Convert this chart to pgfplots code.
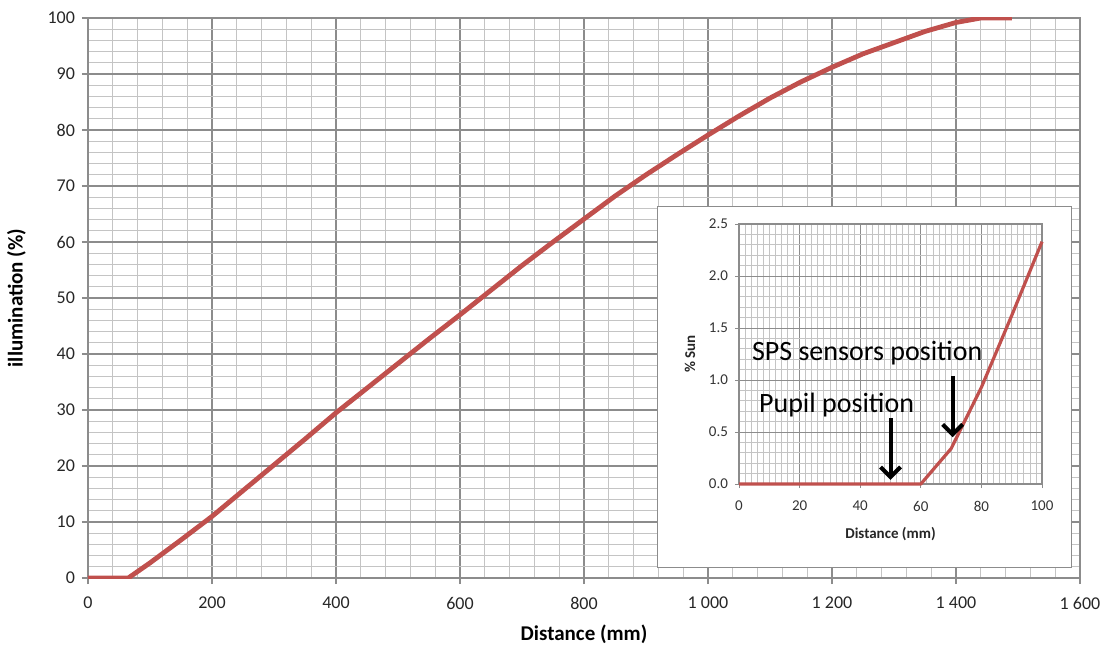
\documentclass[border=0pt]{standalone}
\usepackage{fontspec}
\setmainfont{Carlito}
\usepackage{pgfplots}
\pgfplotsset{compat=1.18}
\usetikzlibrary{arrows.meta}

\definecolor{curve}{HTML}{C0504D}
\definecolor{majgrid}{HTML}{8C8C8C}
\definecolor{mingrid}{HTML}{C4C4C4}

\begin{document}
\begin{tikzpicture}
\path[use as bounding box] (-44pt,-40.5pt) rectangle (511.5pt,289pt);
\begin{axis}[
  at={(0pt,0pt)}, anchor=origin,
  scale only axis, width=496pt, height=280pt,
  xmin=0, xmax=1600, ymin=0, ymax=100,
  xtick={0,200,...,1600}, ytick={0,10,...,100},
  minor x tick num=4, minor y tick num=4,
  grid=both,
  major grid style={majgrid, line width=0.6pt},
  minor grid style={mingrid, line width=0.5pt},
  axis line style={majgrid, line width=0.8pt},
  tick align=outside, major tick length=3pt, minor tick length=0pt,
  tick style={majgrid, line width=0.6pt},
  xtick pos=bottom, ytick pos=left,
  /pgf/number format/assume math mode=true,
  /pgf/number format/1000 sep={\ },
  tick label style={font=\fontsize{9}{10}\selectfont, text=black!85},
  xticklabel style={yshift=-3pt},
  xlabel={\textbf{Distance (mm)}},
  ylabel={\textbf{illumination (\%)}},
  label style={font=\fontsize{10.5}{12}\selectfont},
  xlabel style={yshift=-1pt},
  ylabel style={yshift=4pt},
]
\addplot[curve, line width=2.4pt, line join=round] coordinates {
  (0,0) (65,0) (100,2.7) (150,6.8) (200,11) (250,15.6) (300,20.2) (350,24.8)
  (400,29.5) (450,33.9) (500,38.3) (550,42.7) (600,47) (650,51.4) (700,55.8)
  (750,60) (800,64.1) (850,68.2) (900,72) (950,75.6) (1000,79.1) (1050,82.5)
  (1100,85.7) (1150,88.6) (1200,91.2) (1250,93.6) (1300,95.6) (1350,97.6)
  (1400,99.2) (1440,100) (1490,100)
};
\end{axis}
\fill[white] (284.5pt,5.5pt) rectangle (491.5pt,185.5pt);
\draw[black!45, line width=0.5pt] (284.5pt,5.5pt) rectangle (491.5pt,185.5pt);
\begin{axis}[
  at={(325.5pt,47pt)}, anchor=origin,
  scale only axis, width=151.5pt, height=130pt,
  xmin=0, xmax=100, ymin=0, ymax=2.5,
  xtick={0,20,...,100}, ytick={0,0.5,...,2.5},
  minor x tick num=9, minor y tick num=4,
  grid=both,
  major grid style={majgrid, line width=0.5pt},
  minor grid style={mingrid, line width=0.4pt},
  axis line style={majgrid, line width=0.6pt},
  tick align=outside, major tick length=2pt, minor tick length=0pt,
  tick style={majgrid, line width=0.5pt},
  xtick pos=bottom, ytick pos=left,
  /pgf/number format/assume math mode=true,
  yticklabel style={/pgf/number format/.cd, fixed, fixed zerofill, precision=1},
  tick label style={font=\fontsize{7.5}{9}\selectfont, text=black!80},
  xticklabel style={yshift=-3pt},
  xlabel={\textbf{Distance (mm)}},
  ylabel={\textbf{\% Sun}},
  label style={font=\fontsize{7.5}{9}\selectfont, text=black!85},
  xlabel style={yshift=-1pt},
  clip=false,
]
\addplot[curve, line width=1.6pt, line join=round] coordinates {
  (0,0) (60,0) (70,0.34) (80,0.93) (90,1.62) (100,2.33)
};
\draw[black, line width=2pt, -{Straight Barb[length=5pt, width=10pt]}]
  (axis cs:50,0.63) -- (axis cs:50,0.04);
\draw[black, line width=2pt, -{Straight Barb[length=5pt, width=10pt]}]
  (axis cs:70.5,1.04) -- (axis cs:70.5,0.45);
\node[font=\fontsize{14}{16}\selectfont] at (axis cs:42.3,1.26) {SPS sensors position};
\node[font=\fontsize{14}{16}\selectfont] at (axis cs:32.2,0.76) {Pupil position};
\end{axis}
\end{tikzpicture}
\end{document}
